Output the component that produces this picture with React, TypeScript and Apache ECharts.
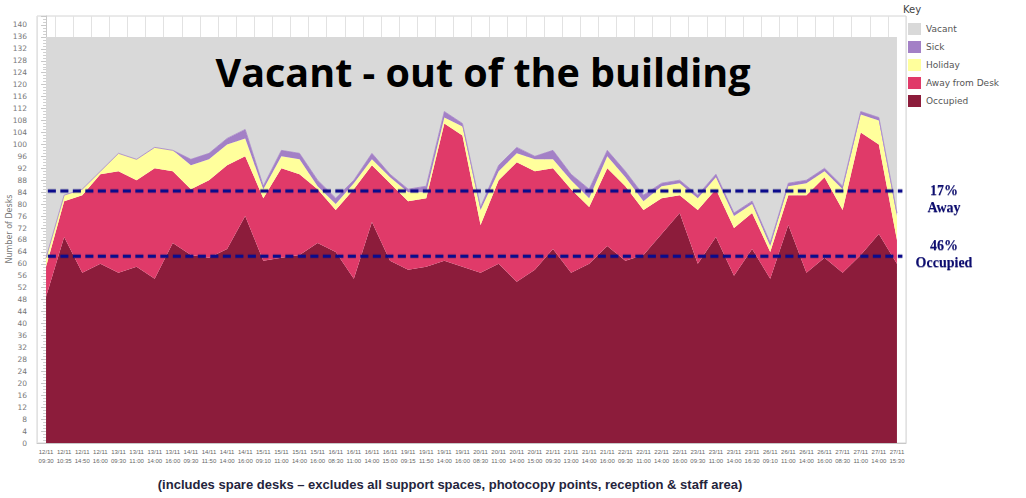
import React, { useEffect, useRef } from "react";
import * as echarts from "echarts";

const categories: string[] = [
  "12/11\n09:30", "12/11\n10:35", "12/11\n14:50", "12/11\n16:00",
  "13/11\n09:30", "13/11\n11:00", "13/11\n14:00", "13/11\n16:00",
  "14/11\n09:30", "14/11\n11:50", "14/11\n14:00", "14/11\n16:00",
  "15/11\n09:10", "15/11\n11:00", "15/11\n14:00", "15/11\n16:00",
  "16/11\n08:30", "16/11\n11:00", "16/11\n14:00", "16/11\n15:00",
  "19/11\n09:15", "19/11\n11:50", "19/11\n14:00", "19/11\n16:00",
  "20/11\n08:30", "20/11\n11:00", "20/11\n14:00", "20/11\n15:00",
  "21/11\n09:30", "21/11\n13:00", "21/11\n14:00", "21/11\n16:00",
  "22/11\n09:30", "22/11\n11:00", "22/11\n14:00", "22/11\n16:00",
  "23/11\n09:30", "23/11\n11:00", "23/11\n14:00", "23/11\n16:30",
  "26/11\n09:10", "26/11\n11:00", "26/11\n14:00", "26/11\n16:00",
  "27/11\n08:30", "27/11\n11:00", "27/11\n14:00", "27/11\n15:30",
];

const occupied: number[] = [49, 69, 57, 60, 57, 59, 55, 67, 63, 62, 65, 76, 61, 62, 63, 67, 64, 55, 74, 61, 58, 59, 61, 59, 57, 60, 54, 58, 65, 57, 60, 66, 61, 63, 70, 77, 60, 69, 56, 65, 55, 73, 57, 62, 57, 63, 70, 60];
const awayFromDesk: number[] = [10, 12, 26, 30, 34, 29, 37, 24, 22, 26, 28, 20, 21, 30, 27, 18, 14, 30, 19, 26, 23, 23, 46, 44, 16, 28, 40, 33, 27, 28, 19, 26, 25, 15, 12, 6, 18, 16, 16, 12, 9, 10, 26, 27, 21, 41, 30, 8];
const holiday: number[] = [3, 2, 2, 1, 6, 7, 7, 7, 8, 7, 7, 6, 3, 4, 5, 1, 2, 2, 2, 2, 3, 2, 2, 3, 5, 3, 3, 4, 3, 3, 3, 4, 3, 3, 4, 4, 4, 4, 4, 3, 2, 3, 4, 2, 7, 6, 8, 8];
const sick: number[] = [0, 0, 0, 0, 0, 0, 0, 0, 2, 2, 2, 3, 1, 2, 2, 2, 2, 1, 2, 1, 1, 2, 2, 1, 1, 2, 2, 1, 3, 2, 3, 2, 2, 2, 1, 1, 1, 1, 1, 1, 1, 1, 1, 1, 1, 1, 1, 1];
const vacant: number[] = [74, 53, 51, 45, 39, 41, 37, 38, 41, 39, 34, 31, 50, 38, 39, 48, 54, 48, 39, 46, 51, 50, 25, 29, 57, 43, 37, 40, 38, 46, 51, 38, 45, 53, 49, 48, 53, 46, 59, 55, 69, 49, 48, 44, 50, 25, 27, 59];

const legendOrder: string[] = ["Vacant", "Sick", "Holiday", "Away from Desk", "Occupied"];
// reference levels (desks) and their horizontal extent in category-index units
const referenceLines: number[] = [84.4, 62.5];
const referenceSpan: number[] = [0.1, 47.3];
const annotations: string[][] = [["17%", "Away"], ["46%", "Occupied"]];
const titleText = "Vacant - out of the building";
const yAxisTitle = "Number of Desks";
const captionText = "(includes spare desks \u2013 excludes all support spaces, photocopy points, reception & staff area)";

const COLORS = {
  Occupied: "#8c1c3b",
  "Away from Desk": "#e03a69",
  Holiday: "#ffff9c",
  Sick: "#a380c6",
  Vacant: "#d9d9d9",
};

const SANS = "'DejaVu Sans', sans-serif";

export default function App() {
  const ref = useRef<HTMLDivElement>(null);

  useEffect(() => {
    document.body.style.margin = "0";
    const chart = echarts.init(ref.current!, null, { renderer: "svg" });

    const areaSeries = (name: string, data: number[], extra: any = {}) => ({
      name,
      type: "line",
      stack: "desks",
      data,
      symbol: "none",
      showSymbol: false,
      lineStyle: { width: 0 },
      itemStyle: { color: (COLORS as any)[name] },
      areaStyle: { color: (COLORS as any)[name], opacity: 1 },
      emphasis: { disabled: true },
      ...extra,
    });

    // soft under-stroke (mimics the blur shadow) plus the dashed navy line
    const refSeries = referenceLines.flatMap((v, k) => [
      {
        name: "refShadow" + k,
        type: "line",
        xAxisIndex: 1,
        data: [
          [referenceSpan[0], v],
          [referenceSpan[1], v],
        ],
        symbol: "none",
        showSymbol: false,
        z: 9,
        silent: true,
        emphasis: { disabled: true },
        lineStyle: {
          color: "rgba(20,20,90,0.18)",
          width: 5,
          type: [8, 4.5],
        },
      },
      {
        name: "ref" + k,
        type: "line",
        xAxisIndex: 1,
        data: [
          [referenceSpan[0], v],
          [referenceSpan[1], v],
        ],
        symbol: "none",
        showSymbol: false,
        z: 10,
        silent: true,
        emphasis: { disabled: true },
        lineStyle: {
          color: "#0b0b8c",
          width: 3,
          type: [8, 4.5],
        },
      },
    ]);

    chart.setOption({
      animation: false,
      grid: {
        left: 37,
        right: 120,
        top: 16,
        bottom: 55,
        containLabel: false,
        outerBoundsMode: "none",
        show: true,
        borderColor: "#d4d4d4",
        borderWidth: 1,
        backgroundColor: "transparent",
      },
      legend: {
        data: legendOrder,
        orient: "vertical",
        left: 903,
        top: 18,
        icon: "rect",
        itemWidth: 13,
        itemHeight: 12,
        itemGap: 6,
        textStyle: { fontSize: 9, color: "#555", fontFamily: SANS },
        selectedMode: false,
      },
      xAxis: [
        {
          type: "category",
          data: categories,
          boundaryGap: true,
          axisLine: { lineStyle: { color: "#c8c8c8" } },
          axisTick: { interval: 0, length: 4, lineStyle: { color: "#c8c8c8" } },
          axisLabel: {
            interval: 0,
            fontSize: 6,
            lineHeight: 9,
            color: "#666",
            margin: 4,
            fontFamily: "'Liberation Sans', sans-serif",
          },
          splitLine: { show: true, interval: 0, lineStyle: { color: "#e2e2e2" } },
        },
        {
          type: "value",
          min: -0.5,
          max: categories.length - 0.5,
          show: false,
        },
      ],
      yAxis: {
        type: "value",
        min: 0,
        max: 143,
        interval: 4,
        axisLine: { show: true, lineStyle: { color: "#c8c8c8" } },
        axisTick: { show: true, length: 5, lineStyle: { color: "#c8c8c8" } },
        minorTick: { show: true, splitNumber: 4, length: 3, lineStyle: { color: "#cfcfcf" } },
        axisLabel: {
          fontSize: 7.5,
          color: "#777",
          margin: 10,
          showMaxLabel: false,
          fontFamily: SANS,
        },
        splitLine: { show: false },
      },
      series: [
        areaSeries("Occupied", occupied),
        areaSeries("Away from Desk", awayFromDesk),
        areaSeries("Holiday", holiday),
        areaSeries("Sick", sick, { lineStyle: { width: 0.8, color: COLORS.Sick } }),
        areaSeries("Vacant", vacant),
        ...refSeries,
      ],
      graphic: [
        {
          type: "text",
          x: 483,
          y: 72,
          z: 100,
          style: {
            text: titleText,
            fontSize: 39.5,
            fontWeight: "bold",
            fontFamily: "'Open Sans', sans-serif",
            fill: "#000",
            align: "center",
            verticalAlign: "middle",
          },
        },
        {
          type: "text",
          x: 9,
          y: 229,
          rotation: Math.PI / 2,
          z: 100,
          style: {
            text: yAxisTitle,
            fontSize: 8,
            fontFamily: SANS,
            fill: "#777",
            align: "center",
            verticalAlign: "middle",
          },
        },
        {
          type: "text",
          x: 903,
          y: 9,
          z: 100,
          style: {
            text: "Key",
            fontSize: 10,
            fontFamily: SANS,
            fill: "#444",
            align: "left",
            verticalAlign: "middle",
          },
        },
        ...annotations.flatMap((pair, k) =>
          pair.map((t, j) => ({
            type: "text",
            x: 944,
            y: (k === 0 ? 190 : 245) + j * 17,
            z: 100,
            style: {
              text: t,
              fontSize: 14,
              fontWeight: "bold",
              fontFamily: "'Liberation Serif', serif",
              fill: "#0d0d70",
              align: "center",
              verticalAlign: "middle",
              textShadowColor: "rgba(0,0,80,0.35)",
              textShadowBlur: 1.5,
              textShadowOffsetY: 1,
            },
          }))
        ),
        {
          type: "text",
          x: 450,
          y: 484,
          z: 100,
          style: {
            text: captionText,
            fontSize: 13,
            fontWeight: "bold",
            fontFamily: "'Liberation Sans Narrow', 'Liberation Sans', sans-serif",
            fill: "#24243c",
            align: "center",
            verticalAlign: "middle",
          },
        },
      ],
    });

    return () => chart.dispose();
  }, []);

  return <div ref={ref} style={{ width: 1026, height: 498 }} />;
}
